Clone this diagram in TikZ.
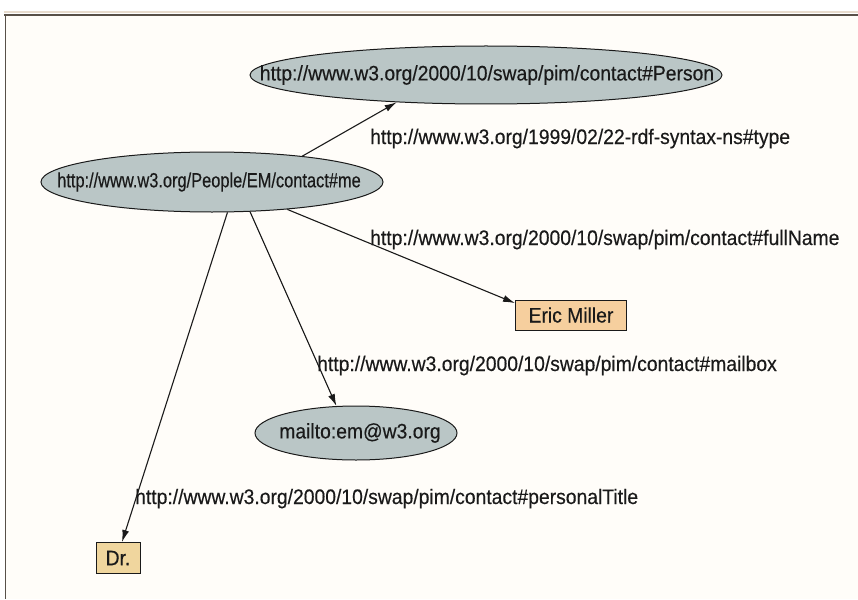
\documentclass[tikz,border=0pt]{standalone}
\usepackage{fontspec}
\setmainfont[FakeStretch=0.92,FakeBold=0.35]{Liberation Sans}
\newfontfamily\narrowfont[FakeStretch=0.80,FakeBold=0.35]{Liberation Sans}
\usetikzlibrary{shapes.geometric,arrows.meta}
\definecolor{ellfill}{RGB}{186,198,198}
\definecolor{boxfill}{RGB}{246,207,158}
\definecolor{drfill}{RGB}{240,214,158}
\definecolor{bg}{RGB}{255,253,249}
\definecolor{frame}{RGB}{88,80,72}
\definecolor{frametop}{RGB}{232,220,206}
\definecolor{ink}{RGB}{26,26,26}
\tikzset{
  x=1pt, y=-1pt,
  every node/.style={font=\fontsize{21}{24}\selectfont, text=ink},
  ell/.style={ellipse, draw=ink, line width=1pt, fill=ellfill, inner sep=0pt},
  lit/.style={rectangle, draw=ink, line width=1pt, inner sep=0pt},
  lbl/.style={anchor=base west, inner sep=0pt},
  edge/.style={draw=ink, line width=1.1pt, -{Latex[length=12pt,width=7pt]}}
}
\begin{document}
\begin{tikzpicture}
\useasboundingbox (0,0) rectangle (858,599);
\fill[white] (0,0) rectangle (858,599);
\fill[bg] (5,15) rectangle (858,599);
\draw[frametop, line width=2pt] (4,12.5) -- (858,12.5);
\draw[frame, line width=2.2pt] (4,15.2) -- (858,15.2);
\draw[frame, line width=1.6pt] (5.5,14) -- (5.5,599);

% nodes
\node[ell, minimum width=472pt, minimum height=58pt] (person) at (486,75) {};
\node (personT) at (487,75) {http://www.w3.org/2000/10/swap/pim/contact\#Person};
\node[ell, minimum width=342pt, minimum height=60pt] (me) at (212,182) {};
\node[font=\narrowfont\fontsize{20.5}{24}\selectfont] (meT) at (209,182) {http://www.w3.org/People/EM/contact\#me};
\node[ell, minimum width=202pt, minimum height=54pt] (mailto) at (356,433) {};
\node (mailtoT) at (360,433) {mailto:em@w3.org};
\node[lit, fill=boxfill, minimum width=111pt, minimum height=30pt] (eric) at (571,315) {Eric Miller};
\node[lit, fill=drfill, minimum width=44pt, minimum height=31pt] (dr) at (118,558) {Dr.};

% edges
\draw[edge] (me.16) -- (person.-163);
\draw[edge] (me.-20) -- (eric.168);
\draw[edge] (me.-38) -- (mailto.126);
\draw[edge] (me.-63) -- (dr.76);

% labels
\node[lbl] (l1) at (370,144) {http://www.w3.org/1999/02/22-rdf-syntax-ns\#type};
\node[lbl] (l2) at (370,245) {http://www.w3.org/2000/10/swap/pim/contact\#fullName};
\node[lbl] (l3) at (317,371) {http://www.w3.org/2000/10/swap/pim/contact\#mailbox};
\node[lbl] (l4) at (135,504) {http://www.w3.org/2000/10/swap/pim/contact\#personalTitle};
\end{tikzpicture}
\end{document}
